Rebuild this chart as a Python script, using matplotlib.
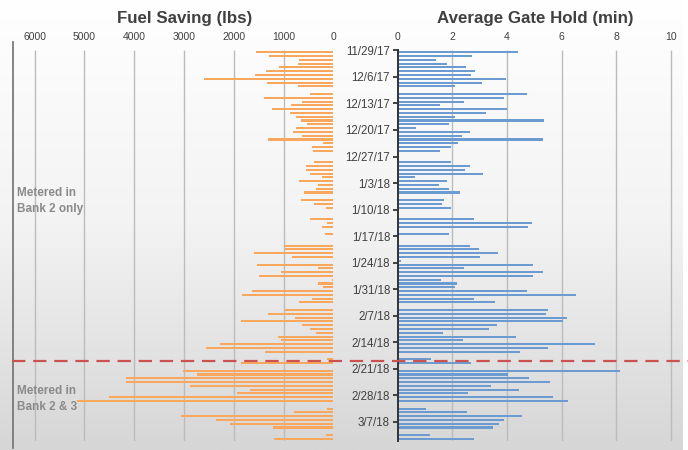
import numpy as np
import matplotlib
matplotlib.use("Agg")
import matplotlib.pyplot as plt
from matplotlib.colors import LinearSegmentedColormap
from matplotlib.lines import Line2D

# ---------------- data (one value per day, 11/29/17 .. 3/11/18) ----------------
fuel_saving = [
    1553, 1300, 680, 700, 1085, 1345, 1580, 2600, 1325, 700,
    0, 462, 1385, 629, 857, 1238, 877, 750, 656, 535,
    750, 803, 622, 1318, 207, 428, 402, 0, 0, 388,
    542, 542, 475, 228, 683, 308, 348, 596, 0, 643,
    382, 140, 0, 0, 475, 120, 221, 0, 175, 0,
    0, 990, 970, 1586, 837, 0, 1526, 301, 1058, 1500,
    20, 301, 214, 1633, 1827, 428, 683, 0, 964, 1319,
    776, 1854, 629, 462, 341, 1111, 1044, 2276, 2564, 1379,
    0, 134, 1854, 0, 3012, 2744, 4163, 4163, 2878, 1673,
    1928, 4505, 5147, 0, 120, 783, 3066, 2363, 2075, 1215,
    0, 150, 1191,
]
gate_hold = [
    4.39, 2.71, 1.39, 1.82, 2.50, 2.82, 2.70, 3.98, 3.10, 2.09,
    0, 4.72, 3.88, 2.41, 1.56, 3.99, 3.22, 2.09, 5.37, 1.88,
    0.66, 2.66, 2.37, 5.30, 2.20, 1.95, 1.55, 0, 0, 1.95,
    2.66, 2.48, 3.11, 0.65, 1.82, 1.52, 1.87, 2.27, 0, 1.71,
    1.63, 1.94, 0, 0, 2.79, 4.90, 4.76, 0, 1.88, 0,
    0, 2.66, 2.98, 3.66, 3.01, 0.13, 4.96, 2.44, 5.32, 4.95,
    1.60, 2.18, 2.09, 4.72, 6.54, 2.79, 3.56, 0, 5.49, 5.41,
    6.18, 6.04, 3.62, 3.34, 1.66, 4.32, 2.40, 7.23, 5.50, 4.46,
    0, 1.21, 2.70, 0, 8.13, 4.02, 4.82, 5.56, 3.40, 4.43,
    2.59, 5.67, 6.22, 0, 1.02, 2.55, 4.56, 3.89, 3.71, 3.48,
    0, 1.17, 2.78,
]
date_labels = ["11/29/17", "12/6/17", "12/13/17", "12/20/17", "12/27/17",
               "1/3/18", "1/10/18", "1/17/18", "1/24/18", "1/31/18",
               "2/7/18", "2/14/18", "2/21/18", "2/28/18", "3/7/18"]
fuel_ticks = [6000, 5000, 4000, 3000, 2000, 1000, 0]
hold_ticks = [0, 2, 4, 6, 8, 10]
split_day = 82          # first day metered in Bank 2 & 3
label_top = "Metered in\nBank 2 only"
label_bottom = "Metered in\nBank 2 & 3"

# ---------------- style ----------------
ORANGE = "#f8a75c"
BLUE = "#6c9bd2"
TXT = "#404040"
GRID = "#bcbcbc"
plt.rcParams["font.family"] = ["Liberation Sans", "DejaVu Sans"]

W, H = 688, 450
fig = plt.figure(figsize=(W / 100, H / 100), dpi=100)
fig.patch.set_facecolor("white")


def box(x0, y0, x1, y1):
    return [x0 / W, 1 - y1 / H, (x1 - x0) / W, (y1 - y0) / H]


# background gradient
bg = fig.add_axes(box(0, 0, 683, 450), zorder=0)
grad = np.linspace(0, 1, 256).reshape(-1, 1)
cmap = LinearSegmentedColormap.from_list("bg", ["#ffffff", "#f3f3f3", "#d6d6d6"])
bg.imshow(grad, aspect="auto", cmap=cmap, extent=(0, 1, 0, 1))
bg.axis("off")

n = len(fuel_saving)
ypos = np.arange(n) + 0.5
Y0, Y1 = 50.4, 440.8

# ---------------- left panel: fuel saving ----------------
axl = fig.add_axes(box(12, Y0, 333.3, Y1), zorder=2)
axl.set_facecolor("none")
axl.set_xlim(6452, 0)
axl.set_ylim(n, 0)
axl.vlines([t for t in fuel_ticks if t > 0], 0, n, colors=GRID, lw=1.0, zorder=1)
axl.barh(ypos, fuel_saving, height=0.55, color=ORANGE, lw=0, zorder=2)
axl.xaxis.tick_top()
axl.set_xticks(fuel_ticks)
axl.set_xticklabels([str(t) for t in fuel_ticks])
axl.tick_params(axis="x", length=0, pad=6, labelsize=7.5, labelcolor=TXT)
axl.set_yticks([])
for s in axl.spines.values():
    s.set_visible(False)

# ---------------- right panel: gate hold ----------------
px_per_min = 27.33
axr = fig.add_axes(box(397.7, Y0, 397.7 + 10.3 * px_per_min, Y1), zorder=2)
axr.set_facecolor("none")
axr.set_xlim(0, 10.3)
axr.set_ylim(n, 0)
axr.vlines([t for t in hold_ticks if t > 0], 0, n, colors=GRID, lw=1.0, zorder=1)
axr.barh(ypos, gate_hold, height=0.55, color=BLUE, lw=0, zorder=2)
axr.xaxis.tick_top()
axr.set_xticks(hold_ticks)
axr.set_xticklabels([str(t) for t in hold_ticks])
axr.tick_params(axis="x", length=0, pad=6, labelsize=7.5, labelcolor=TXT)
axr.set_yticks(np.arange(len(date_labels)) * 7)
axr.set_yticklabels(date_labels)
axr.tick_params(axis="y", direction="out", length=3.5, width=1.3, color="#333333",
                pad=2, labelsize=8.3, labelcolor=TXT)
for k, s in axr.spines.items():
    s.set_visible(k == "left")
axr.spines["left"].set_color("#333333")
axr.spines["left"].set_linewidth(1.4)

# left frame line
fig.add_artist(Line2D([12.5 / W, 12.5 / W], [1 - 448 / H, 1 - 42 / H],
                      transform=fig.transFigure, color="#707070", lw=1.2, zorder=3))

# regime split line across both panels
ysplit = Y0 + (Y1 - Y0) * split_day / n
fig.add_artist(Line2D([12 / W, 1.0], [1 - ysplit / H] * 2, transform=fig.transFigure,
                      color="#cc5250", lw=1.6, ls=(0, (6, 3.5)), zorder=4))

# titles
fig.text(184.5 / W, 1 - 18 / H, "Fuel Saving (lbs)", ha="center", va="center",
         fontsize=12.2, fontweight="bold", color=TXT)
fig.text(535.5 / W, 1 - 18 / H, "Average Gate Hold (min)", ha="center", va="center",
         fontsize=12.2, fontweight="bold", color=TXT)

# regime annotations
fig.text(17 / W, 1 - 201 / H, label_top, ha="left", va="center", fontsize=8.5,
         fontweight="bold", color="#8a8a8a", linespacing=1.45, zorder=5)
fig.text(17 / W, 1 - 399 / H, label_bottom, ha="left", va="center", fontsize=8.5,
         fontweight="bold", color="#8a8a8a", linespacing=1.45, zorder=5)

fig.savefig("out.png", dpi=100)
